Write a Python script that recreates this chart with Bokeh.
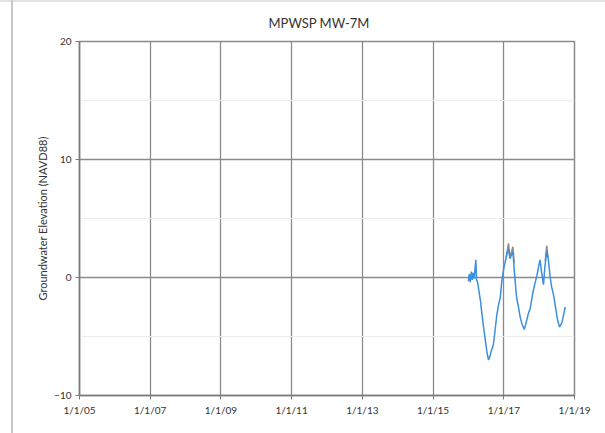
import pandas as pd
import numpy as np
from bokeh.plotting import figure
from bokeh.models import FixedTicker, ColumnDataSource
from bokeh.embed import file_html
from bokeh.resources import INLINE

title_text = "MPWSP MW-7M"
y_label = "Groundwater Elevation (NAVD88)"

tick_dates = ["2005-01-01", "2007-01-01", "2009-01-01", "2011-01-01",
              "2013-01-01", "2015-01-01", "2017-01-01", "2019-01-01"]
tick_labels = ["1/1/05", "1/1/07", "1/1/09", "1/1/11", "1/1/13", "1/1/15", "1/1/17", "1/1/19"]
y_ticks = [-10, 0, 10, 20]
y_minor = [-5, 5, 15]

wl_dates = ["2016-01-01", "2016-01-10", "2016-01-20", "2016-02-01", "2016-02-10", "2016-02-20",
            "2016-03-01", "2016-03-10", "2016-03-18", "2016-03-25", "2016-04-05", "2016-04-20",
            "2016-05-05", "2016-05-20", "2016-06-07", "2016-06-25", "2016-07-10", "2016-07-27",
            "2016-08-10", "2016-08-25", "2016-09-15", "2016-10-01", "2016-10-20", "2016-11-05",
            "2016-11-25", "2016-12-10", "2017-01-01", "2017-01-20", "2017-02-05", "2017-02-20",
            "2017-03-05", "2017-03-20", "2017-04-05", "2017-04-20", "2017-05-05", "2017-05-15",
            "2017-06-01", "2017-06-20", "2017-07-10", "2017-08-01", "2017-08-20", "2017-09-10",
            "2017-10-01", "2017-10-25", "2017-11-15", "2017-12-10", "2017-12-25", "2018-01-10",
            "2018-01-25", "2018-02-15", "2018-03-01", "2018-03-20", "2018-04-05", "2018-04-25",
            "2018-05-10", "2018-05-30", "2018-06-20", "2018-07-10", "2018-07-30", "2018-08-15",
            "2018-08-28", "2018-09-15", "2018-09-27"]
wl_values = [-0.3, 0.3, -0.4, 0.5, -0.2, 0.4,
             -0.1, 0.8, 1.5, -0.2, -0.4, -1.2,
             -2.0, -3.1, -4.3, -5.4, -6.3, -7.0,
             -6.7, -6.2, -5.7, -4.6, -3.2, -2.4,
             -1.7, -0.4, 0.8, 1.5, 2.1, 2.4,
             1.6, 1.9, 2.2, 0.5, -1.0, -1.8,
             -2.5, -3.4, -4.0, -4.4, -3.8, -3.1,
             -2.6, -1.4, -0.6, 0.2, 0.9, 1.5,
             0.5, -0.6, 0.9, 2.2, 1.6, 0.0,
             -0.8, -1.5, -2.6, -3.6, -4.2, -4.0,
             -3.7, -3.0, -2.5]

raw_dates = ["2017-01-25", "2017-02-18", "2017-03-05", "2017-03-25", "2017-04-05", "2017-04-18",
             "2017-12-01", "2018-03-05", "2018-03-20", "2018-04-02"]
raw_values = [1.7, 2.9, 1.7, 2.3, 2.6, 1.2,
              np.nan, 1.4, 2.7, 1.7]

t0 = pd.Timestamp("2005-01-01")
t1 = pd.Timestamp("2019-01-01")

p = figure(width=605, height=433, x_axis_type="datetime",
           x_range=(t0, t1), y_range=(-10, 20), title=title_text,
           output_backend="svg", toolbar_location=None,
           min_border_left=79, min_border_right=31, min_border_top=41, min_border_bottom=38)

p.title.align = "left"
p.title.offset = 189
p.title.standoff = 22
p.title.text_font = "Lato"
p.title.text_font_size = "13px"
p.title.text_font_style = "normal"
p.title.text_color = "#333333"

raw_src = ColumnDataSource(dict(x=pd.to_datetime(raw_dates), y=raw_values))
wl_src = ColumnDataSource(dict(x=pd.to_datetime(wl_dates), y=wl_values))
p.line("x", "y", source=raw_src, line_color="#8c8c8c", line_width=1.5)
p.line("x", "y", source=wl_src, line_color="#3b8fde", line_width=1.5)

tick_ms = [pd.Timestamp(d).value / 1e6 for d in tick_dates]
p.xaxis.ticker = FixedTicker(ticks=tick_ms)
p.xaxis.major_label_overrides = {t: l for t, l in zip(tick_ms, tick_labels)}
p.yaxis.ticker = FixedTicker(ticks=y_ticks, minor_ticks=y_minor)

grid_col = "#8a8a8a"
p.xgrid.grid_line_color = grid_col
p.ygrid.grid_line_color = grid_col
p.xgrid.grid_line_width = 1.3
p.ygrid.grid_line_width = 1.3
p.ygrid.minor_grid_line_color = "#ececec"
p.outline_line_color = grid_col
p.outline_line_width = 1.5

for ax in (p.xaxis, p.yaxis):
    ax.axis_line_color = "#7a7a7a"
    ax.axis_line_width = 1.5
    ax.major_tick_line_color = "#7a7a7a"
    ax.major_tick_out = 4
    ax.major_tick_in = 0
    ax.minor_tick_line_color = None
    ax.major_label_text_font = "Lato"
    ax.major_label_text_font_size = "10px"
    ax.major_label_text_color = "#333333"
    ax.major_label_standoff = 4

p.yaxis.axis_label = y_label
p.yaxis.axis_label_text_font = "Lato"
p.yaxis.axis_label_text_font_size = "11px"
p.yaxis.axis_label_text_font_style = "normal"
p.yaxis.axis_label_text_color = "#333333"
p.yaxis.axis_label_standoff = 2

p.background_fill_color = "white"
p.border_fill_color = None
p.styles = {
    "background-color": "white",
    "background-image": ("linear-gradient(to right, transparent 11px, #c8c8c8 11px, "
                         "#c8c8c8 13px, transparent 13px), "
                         "linear-gradient(to bottom, transparent 0px, #e2e2e2 0px, "
                         "#e2e2e2 2px, transparent 2px)"),
}

open("out.html", "w").write(file_html(p, INLINE))
